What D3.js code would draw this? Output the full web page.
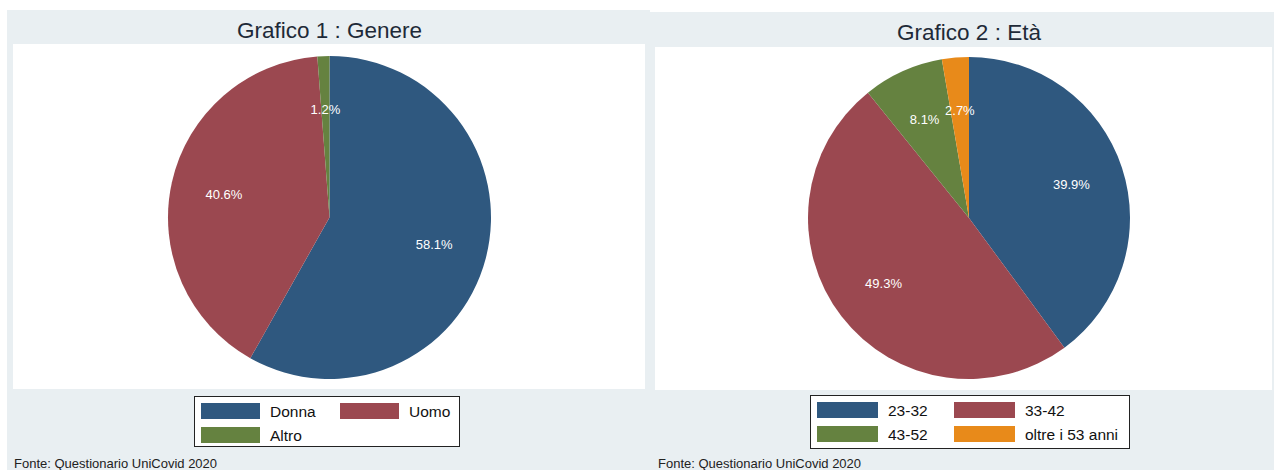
<!DOCTYPE html>
<html><head><meta charset="utf-8">
<script src="https://cdn.jsdelivr.net/npm/d3@7"></script>
<style>body{margin:0;background:#fff;font-family:"Liberation Sans",Arial,sans-serif}</style>
</head><body>
<svg id="c" width="1274" height="470"></svg>
<script>
const titles = ["Grafico 1 : Genere", "Grafico 2 : Età"];
const genderCategories = ["Donna", "Uomo", "Altro"];
const genderValues = [58.1, 40.6, 1.2];
const ageCategories = ["23-32", "33-42", "43-52", "oltre i 53 anni"];
const ageValues = [39.9, 49.3, 8.1, 2.7];
const source = "Fonte: Questionario UniCovid 2020";
const palette = ["#2f587f", "#9b4850", "#658240", "#e88a1a"];

const svg = d3.select("#c");
const bg = "#e9eff2";

const panels = [
  {x0:7, y0:10, x1:650, plot:{x:13,y:44,w:632,h:345}, cx:329.5, cy:217.5, r:161.5, titleY:30,
   cats:genderCategories, vals:genderValues,
   legend:{x:194, y:396, w:265, h:50, col2:139, sw:59}, srcX:14},
  {x0:650, y0:12, x1:1274, plot:{x:655,y:47,w:617,h:343}, cx:969, cy:218, r:161, titleY:32,
   cats:ageCategories, vals:ageValues,
   legend:{x:810, y:395, w:319, h:53, col2:137, sw:61}, srcX:658}
];

panels.forEach((p, pi) => {
  const g = svg.append("g");
  g.append("rect").attr("x", p.x0).attr("y", p.y0).attr("width", p.x1 - p.x0).attr("height", 470 - p.y0).attr("fill", bg);
  g.append("rect").attr("x", p.plot.x).attr("y", p.plot.y).attr("width", p.plot.w).attr("height", p.plot.h).attr("fill", "#fff");
  g.append("text").attr("x", p.cx).attr("y", p.titleY).attr("text-anchor", "middle").attr("dominant-baseline", "central")
    .attr("font-size", 22.5).attr("fill", "#1e2a38").text(titles[pi]);

  const color = d3.scaleOrdinal().domain(p.cats).range(palette);
  const data = p.cats.map((c, i) => ({cat: c, v: p.vals[i]}));
  const pie = d3.pie().value(d => d.v).sort(null).startAngle(0).endAngle(2 * Math.PI);
  const arcs = pie(data);
  const arc = d3.arc().innerRadius(0).outerRadius(p.r);
  const labelArc = d3.arc().innerRadius(p.r * 0.67).outerRadius(p.r * 0.67);
  const pg = g.append("g").attr("transform", `translate(${p.cx},${p.cy})`);
  pg.selectAll("path").data(arcs).join("path").attr("d", arc).attr("fill", d => color(d.data.cat));
  pg.selectAll("text").data(arcs).join("text")
    .attr("transform", d => `translate(${labelArc.centroid(d)})`)
    .attr("text-anchor", "middle").attr("dominant-baseline", "central")
    .attr("font-size", 13).attr("fill", "#fff")
    .text(d => d.data.v.toFixed(1) + "%");

  const L = p.legend;
  const lg = g.append("g").attr("transform", `translate(${L.x},${L.y})`);
  lg.append("rect").attr("x", 0.5).attr("y", 0.5).attr("width", L.w).attr("height", L.h).attr("fill", "#fff").attr("stroke", "#222").attr("stroke-width", 1);
  const items = lg.selectAll("g.item").data(p.cats).join("g").attr("class", "item")
    .attr("transform", (d, i) => `translate(${7 + (i % 2) * L.col2},${7 + Math.floor(i / 2) * 24})`);
  items.append("rect").attr("width", L.sw).attr("height", 16).attr("fill", d => color(d));
  items.append("text").attr("x", L.sw + 10).attr("y", 8).attr("dominant-baseline", "central")
    .attr("font-size", 15.5).attr("fill", "#111").text(d => d);

  g.append("text").attr("x", p.srcX).attr("y", 463).attr("dominant-baseline", "central")
    .attr("font-size", 13).attr("fill", "#222").text(source);
});
</script>
</body></html>
